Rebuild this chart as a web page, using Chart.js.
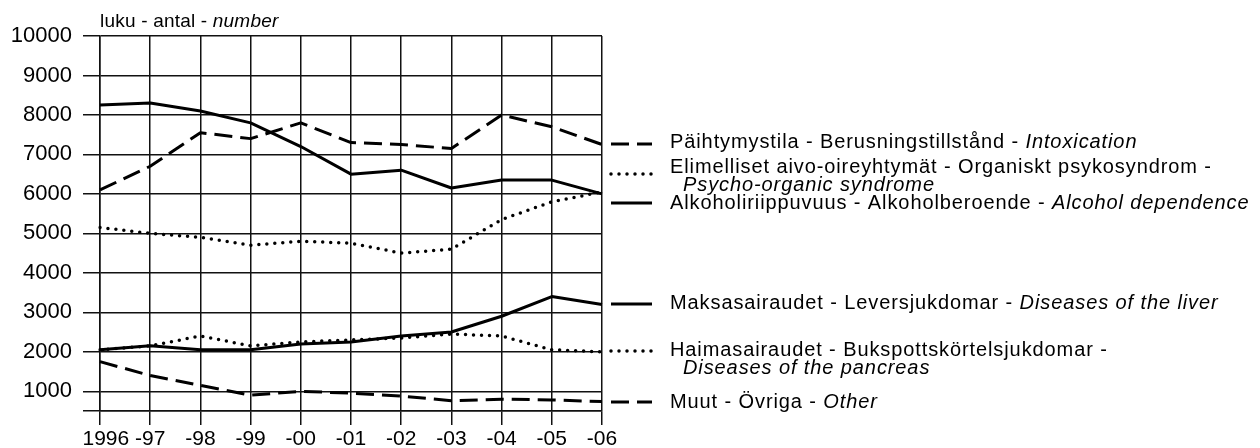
<!DOCTYPE html>
<html>
<head>
<meta charset="utf-8">
<script src="https://cdn.jsdelivr.net/npm/chart.js@4/dist/chart.umd.min.js"></script>
<style>
  html, body { margin: 0; padding: 0; background: #fff; }
  #wrap { width: 1260px; height: 448px; }
</style>
</head>
<body>
<div id="wrap"><canvas id="chart" width="1260" height="448"></canvas></div>
<script>
// categories (years) and y axis ticks
const years = ["1996", "-97", "-98", "-99", "-00", "-01", "-02", "-03", "-04", "-05", "-06"];
const yMin = 500;
const yMax = 10000;
const yTicks = [1000, 2000, 3000, 4000, 5000, 6000, 7000, 8000, 9000, 10000];

// series values
const intoxication = [6100, 6700, 7550, 7400, 7800, 7300, 7250, 7150, 8000, 7700, 7250];
const psychoOrganic = [5150, 5000, 4900, 4700, 4800, 4750, 4500, 4600, 5350, 5800, 6050];
const alcoholDependence = [8250, 8300, 8100, 7800, 7200, 6500, 6600, 6150, 6350, 6350, 6000];
const liverDiseases = [2050, 2150, 2050, 2050, 2200, 2250, 2400, 2500, 2900, 3400, 3200];
const pancreasDiseases = [2050, 2150, 2400, 2150, 2250, 2300, 2350, 2450, 2400, 2050, 2000];
const otherCauses = [1750, 1400, 1150, 900, 1000, 950, 880, 760, 800, 780, 740];

// legend texts: [finnish - swedish - , english]
const seriesNames = [
  ["Päihtymystila - Berusningstillstånd - ", "Intoxication"],
  ["Elimelliset aivo-oireyhtymät - Organiskt psykosyndrom -", "Psycho-organic syndrome"],
  ["Alkoholiriippuvuus - Alkoholberoende - ", "Alcohol dependence"],
  ["Maksasairaudet - Leversjukdomar - ", "Diseases of the liver"],
  ["Haimasairaudet - Bukspottskörtelsjukdomar -", "Diseases of the pancreas"],
  ["Muut - Övriga - ", "Other"]
];

const FONT = "'Liberation Sans', Arial, Helvetica, sans-serif";
const DASHED = [18, 8];
const DOTTED = [0, 8];

function lineSet(label, data, dash) {
  return {
    label: label,
    data: data,
    borderColor: "#000",
    borderWidth: dash === DOTTED ? 3.5 : 3,
    borderDash: dash,
    borderCapStyle: dash === DOTTED ? "round" : "butt",
    borderJoinStyle: "round",
    pointRadius: 0,
    tension: 0,
    fill: false
  };
}

// legend rows: text y (line 1), sample y, and whether the english part wraps
const legendRows = [
  { y: 142, sy: 144, dash: DASHED, wrap: false },
  { y: 167, sy: 174, dash: DOTTED, wrap: true },
  { y: 203, sy: 203, dash: [], wrap: false },
  { y: 303, sy: 304, dash: [], wrap: false },
  { y: 350, sy: 351, dash: DOTTED, wrap: true },
  { y: 402, sy: 402, dash: DASHED, wrap: false }
];

const textPlugin = {
  id: "texts",
  afterDraw(chart) {
    const ctx = chart.ctx;
    ctx.save();
    ctx.fillStyle = "#000";
    ctx.textBaseline = "middle";

    // axis title
    ctx.letterSpacing = "0.2px";
    ctx.font = "19px " + FONT;
    const t1 = "luku - antal - ";
    ctx.fillText(t1, 100, 22);
    const w1 = ctx.measureText(t1).width;
    ctx.font = "italic 19px " + FONT;
    ctx.fillText("number", 100 + w1, 22);

    // legend
    ctx.letterSpacing = "0.9px";
    legendRows.forEach((row, i) => {
      ctx.strokeStyle = "#000";
      ctx.lineWidth = row.dash === DOTTED ? 3.5 : 3;
      ctx.lineCap = row.dash === DOTTED ? "round" : "butt";
      ctx.setLineDash(row.dash);
      ctx.beginPath();
      ctx.moveTo(611, row.sy);
      ctx.lineTo(652, row.sy);
      ctx.stroke();
      ctx.setLineDash([]);

      const [local, en] = seriesNames[i];
      ctx.font = "20px " + FONT;
      ctx.fillText(local, 670, row.y);
      const w = ctx.measureText(local).width;
      ctx.font = "italic 20px " + FONT;
      if (row.wrap) {
        ctx.fillText(en, 683, row.y + 18);
      } else {
        ctx.fillText(en, 670 + w, row.y);
      }
    });
    ctx.restore();
  }
};

new Chart(document.getElementById("chart"), {
  type: "line",
  data: {
    labels: years,
    datasets: [
      lineSet("Intoxication", intoxication, DASHED),
      lineSet("Psycho-organic syndrome", psychoOrganic, DOTTED),
      lineSet("Alcohol dependence", alcoholDependence, []),
      lineSet("Diseases of the liver", liverDiseases, []),
      lineSet("Diseases of the pancreas", pancreasDiseases, DOTTED),
      lineSet("Other", otherCauses, DASHED)
    ]
  },
  options: {
    responsive: false,
    animation: false,
    layout: { padding: { top: 36, right: 658, left: 0, bottom: 0 } },
    plugins: {
      legend: { display: false },
      tooltip: { enabled: false }
    },
    scales: {
      x: {
        offset: false,
        grid: { color: "#111", lineWidth: 1.5, tickLength: 14, offset: false },
        border: { color: "#111", width: 1.5 },
        ticks: {
          color: "#000",
          font: { family: FONT, size: 21 },
          padding: 2,
          maxRotation: 0,
          autoSkip: false,
          // the first year label sits a little right of its gridline
          callback: (v, i) => (i === 0 ? "\u2007" + years[i] : years[i])
        },
        afterFit(scale) { scale.height = 37; }
      },
      y: {
        min: yMin,
        max: yMax,
        afterBuildTicks(scale) {
          scale.ticks = [yMin].concat(yTicks).map(v => ({ value: v }));
        },
        grid: { color: "#111", lineWidth: 1.5, tickLength: 17 },
        border: { color: "#111", width: 1.5 },
        ticks: {
          color: "#000",
          font: { family: FONT, size: 22 },
          padding: 11,
          callback: v => (v === yMin ? "" : String(v))
        },
        afterFit(scale) { scale.width = 100; }
      }
    }
  },
  plugins: [textPlugin]
});
</script>
</body>
</html>
